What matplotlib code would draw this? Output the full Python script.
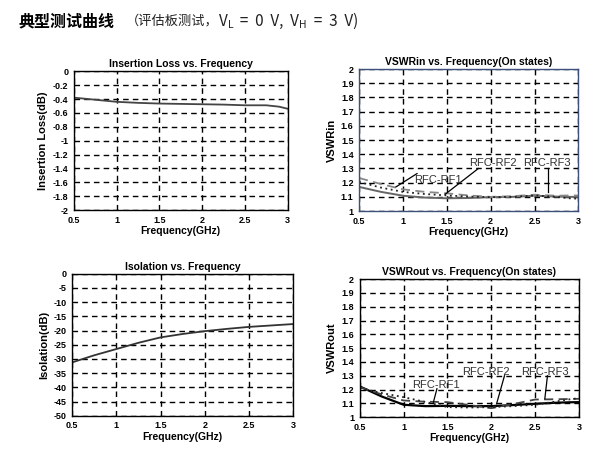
import matplotlib
matplotlib.use("Agg")
import matplotlib.pyplot as plt
import numpy as np

plt.rcParams['font.family'] = ['Liberation Sans', 'Noto Sans CJK SC', 'DejaVu Sans']

# frequency points (GHz)
freq = [0.5, 0.75, 1.0, 1.25, 1.5, 1.75, 2.0, 2.25, 2.5, 2.75, 2.9, 3.0]

il_db = [-0.38, -0.41, -0.44, -0.455, -0.465, -0.47, -0.475, -0.48, -0.49, -0.49, -0.51, -0.54]
iso_db = [-31.2, -28.7, -26.5, -24.3, -22.4, -21.2, -20.2, -19.4, -18.7, -18.2, -17.9, -17.7]

vswr_in_rf1 = [1.17, 1.135, 1.108, 1.095, 1.09, 1.092, 1.098, 1.10, 1.108, 1.102, 1.10, 1.10]
vswr_in_rf2 = [1.233, 1.19, 1.153, 1.135, 1.125, 1.11, 1.10, 1.105, 1.115, 1.108, 1.11, 1.11]
vswr_in_rf3 = [1.205, 1.165, 1.135, 1.12, 1.11, 1.102, 1.098, 1.10, 1.11, 1.10, 1.09, 1.087]

vswr_out_rf1 = [1.223, 1.15, 1.09, 1.08, 1.082, 1.08, 1.08, 1.088, 1.097, 1.105, 1.108, 1.109]
vswr_out_rf2 = [1.218, 1.165, 1.121, 1.112, 1.109, 1.088, 1.065, 1.095, 1.128, 1.13, 1.132, 1.133]
vswr_out_rf3 = [1.21, 1.175, 1.145, 1.11, 1.073, 1.07, 1.073, 1.08, 1.09, 1.115, 1.13, 1.138]

il_ticks = [0, -0.2, -0.4, -0.6, -0.8, -1, -1.2, -1.4, -1.6, -1.8, -2]
iso_ticks = list(range(0, -55, -5))
vswr_ticks = [1, 1.1, 1.2, 1.3, 1.4, 1.5, 1.6, 1.7, 1.8, 1.9, 2]
freq_ticks = [0.5, 1, 1.5, 2, 2.5, 3]

CJK = ['Noto Sans CJK SC', 'DejaVu Sans']


def style_axes(ax, title, ylabel, yticks, border="black"):
    ax.set_xlim(0.5, 3)
    ax.set_ylim(min(yticks), max(yticks))
    ax.set_xticks(freq_ticks)
    ax.set_xticklabels([f"{t:g}" for t in freq_ticks])
    ax.set_yticks(yticks)
    ax.set_yticklabels([f"{t:g}" for t in yticks])
    ax.tick_params(length=0, labelsize=6.5, pad=4)
    for lab in ax.get_xticklabels() + ax.get_yticklabels():
        lab.set_fontweight("bold")
    ax.grid(True, color="black", linestyle=(0, (4, 3)), linewidth=1.0)
    ax.set_title(title, fontsize=7.5, fontweight="bold", pad=3)
    ax.set_xlabel("Frequency(GHz)", fontsize=7.5, fontweight="bold", labelpad=1)
    ax.set_ylabel(ylabel, fontsize=8, fontweight="bold", labelpad=3)
    for sp in ax.spines.values():
        sp.set_color(border)
        sp.set_linewidth(1.0)


def note(ax, text, xytext, start, end):
    ax.text(xytext[0], xytext[1], text, fontsize=8, color="#333333",
            ha="center", va="center")
    ax.plot([start[0], end[0]], [start[1], end[1]], color="black", lw=0.9)


fig = plt.figure(figsize=(6.16, 4.51), dpi=100)

# header text
fig.text(0.030, 0.953, "典型测试曲线", fontsize=11.5, fontweight="bold",
         family=CJK, va="center")
t2 = fig.text(0.205, 0.953, "（评估板测试，", fontsize=9.5, color="#222222",
              family=CJK, va="center")
fig.canvas.draw()
renderer = fig.canvas.get_renderer()
prev = t2
pieces = [("V", 11, 0), ("L", 7.5, -4), ("  =  0  V,  V", 11, 0), ("H", 7.5, -4), ("  =  3  V)", 11, 0)]
for txt, size, dy in pieces:
    bb = prev.get_window_extent(renderer)
    x = bb.x1 / fig.bbox.width
    prev = fig.text(x, 0.953 + dy / 451, txt, fontsize=size, color="#222222",
                    family=CJK, va="center")
    fig.canvas.draw()

# Insertion loss
ax1 = fig.add_axes([0.120, 0.534, 0.347, 0.308])
ax1.plot(freq, il_db, color="#444444", lw=1.3)
style_axes(ax1, "Insertion Loss vs. Frequency", "Insertion Loss(dB)", il_ticks)

# VSWR in
ax2 = fig.add_axes([0.583, 0.532, 0.356, 0.315])
ax2.plot(freq, vswr_in_rf1, color="#666666", lw=1.4)
ax2.plot(freq, vswr_in_rf2, color="#888888", lw=1.3, linestyle=(0, (5, 3)))
ax2.plot(freq, vswr_in_rf3, color="#222222", lw=1.3, linestyle=(0, (1, 2)))
style_axes(ax2, "VSWRin vs. Frequency(On states)", "VSWRin", vswr_ticks, border="#3d4f7a")
note(ax2, "RFC-RF1", (1.40, 1.217), (1.16, 1.264), (0.92, 1.17))
note(ax2, "RFC-RF2", (2.02, 1.335), (1.86, 1.30), (1.48, 1.118))
note(ax2, "RFC-RF3", (2.64, 1.335), (2.65, 1.30), (2.65, 1.135))

# Isolation
ax3 = fig.add_axes([0.117, 0.078, 0.359, 0.315])
ax3.plot(freq, iso_db, color="#333333", lw=1.3)
style_axes(ax3, "Isolation vs. Frequency", "Isolation(dB)", iso_ticks)

# VSWR out
ax4 = fig.add_axes([0.584, 0.075, 0.356, 0.306])
ax4.plot(freq, vswr_out_rf1, color="black", lw=1.6)
ax4.plot(freq, vswr_out_rf2, color="#444444", lw=1.3, linestyle=(0, (5, 3)))
ax4.plot(freq, vswr_out_rf3, color="#222222", lw=1.3, linestyle=(0, (1, 2)))
style_axes(ax4, "VSWRout vs. Frequency(On states)", "VSWRout", vswr_ticks)
note(ax4, "RFC-RF1", (1.37, 1.23), (1.38, 1.206), (1.34, 1.109))
note(ax4, "RFC-RF2", (1.94, 1.327), (2.15, 1.30), (2.06, 1.097))
note(ax4, "RFC-RF3", (2.61, 1.327), (2.64, 1.30), (2.61, 1.133))

fig.savefig("out.png", dpi=100)
